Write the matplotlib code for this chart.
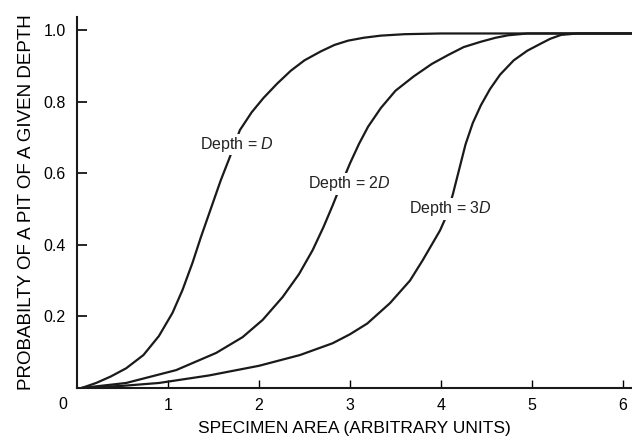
import matplotlib
matplotlib.use("Agg")
import matplotlib.pyplot as plt

plt.rcParams['font.family'] = ['Liberation Sans', 'DejaVu Sans']
plt.rcParams['mathtext.fontset'] = 'custom'
plt.rcParams['mathtext.rm'] = 'Liberation Sans'
plt.rcParams['mathtext.it'] = 'Liberation Sans:italic'

# values
area_d = [0.05, 0.21, 0.37, 0.54, 0.73, 0.90, 1.05, 1.16, 1.27, 1.36, 1.47, 1.58, 1.68,
          1.79, 1.92, 2.05, 2.2, 2.35, 2.5, 2.68, 2.83, 2.98, 3.15, 3.34, 3.6, 4.0, 6.1]
prob_d = [0.0, 0.014, 0.032, 0.055, 0.092, 0.145, 0.21, 0.274, 0.35, 0.42, 0.50, 0.58, 0.645,
          0.72, 0.77, 0.81, 0.85, 0.886, 0.915, 0.94, 0.958, 0.97, 0.978, 0.984, 0.988, 0.99, 0.99]

area_2d = [0.05, 0.54, 1.09, 1.53, 1.82, 2.04, 2.26, 2.44, 2.59, 2.71, 2.81, 2.87, 3.0,
           3.1, 3.2, 3.34, 3.5, 3.7, 3.9, 4.08, 4.25, 4.44, 4.6, 4.74, 4.95, 6.1]
prob_2d = [0.0, 0.014, 0.05, 0.098, 0.142, 0.19, 0.254, 0.318, 0.385, 0.45, 0.51, 0.548, 0.627,
           0.682, 0.73, 0.782, 0.83, 0.87, 0.905, 0.93, 0.952, 0.967, 0.978, 0.985, 0.99, 0.99]

area_3d = [0.05, 0.5, 0.90, 1.45, 2.0, 2.45, 2.81, 3.0, 3.19, 3.44, 3.66, 3.80, 3.91, 3.99,
           4.06, 4.13, 4.2, 4.27, 4.35, 4.44, 4.54, 4.65, 4.8, 4.95, 5.1, 5.2, 5.32, 5.5, 6.1]
prob_3d = [0.0, 0.006, 0.014, 0.035, 0.062, 0.092, 0.125, 0.15, 0.18, 0.237, 0.30, 0.357, 0.405, 0.44,
           0.48, 0.54, 0.61, 0.68, 0.74, 0.79, 0.835, 0.875, 0.915, 0.942, 0.962, 0.975, 0.986, 0.99, 0.99]

curve_labels = ['Depth = $D$', 'Depth = 2$D$', 'Depth = 3$D$']
label_pos = [(1.76, 0.68), (2.99, 0.57), (4.10, 0.50)]

x_ticks = [1, 2, 3, 4, 5, 6]
y_ticks = [0.2, 0.4, 0.6, 0.8, 1.0]

fig = plt.figure(figsize=(6.32, 4.40), dpi=100)
ax = fig.add_axes([77 / 632, 52 / 440, 555 / 632, 371 / 440])

for xs, ys in [(area_d, prob_d), (area_2d, prob_2d), (area_3d, prob_3d)]:
    ax.plot(xs, ys, color='#1a1a1a', linewidth=1.6, solid_joinstyle='round', solid_capstyle='round')

for text, (tx, ty) in zip(curve_labels, label_pos):
    ax.text(tx, ty, text, fontsize=11.5, ha='center', va='center', color='#222222',
            bbox=dict(facecolor='white', edgecolor='none', pad=1.0), zorder=5)

ax.set_xlim(0, 6.1)
ax.set_ylim(0, 1.036)
ax.set_xticks(x_ticks)
ax.set_xticklabels([str(t) for t in x_ticks])
ax.set_yticks(y_ticks)
ax.set_yticklabels([f'{t:.1f}' for t in y_ticks])
ax.text(-0.16, -0.047, '0', fontsize=11.5, ha='center', va='center', clip_on=False)

for side in ['top', 'right']:
    ax.spines[side].set_visible(False)
for side in ['left', 'bottom']:
    ax.spines[side].set_linewidth(1.5)
    ax.spines[side].set_color('#1a1a1a')

ax.tick_params(axis='y', direction='in', length=7, width=1.2, pad=8, labelsize=11.5)
ax.tick_params(axis='x', direction='in', length=6, width=1.0, pad=7, labelsize=11.5)

ax.set_xlabel('SPECIMEN AREA (ARBITRARY UNITS)', fontsize=12.5, labelpad=6)
ax.set_ylabel('PROBABILTY OF A PIT OF A GIVEN DEPTH', fontsize=13.5, labelpad=6)

fig.savefig('out.png', dpi=100)
